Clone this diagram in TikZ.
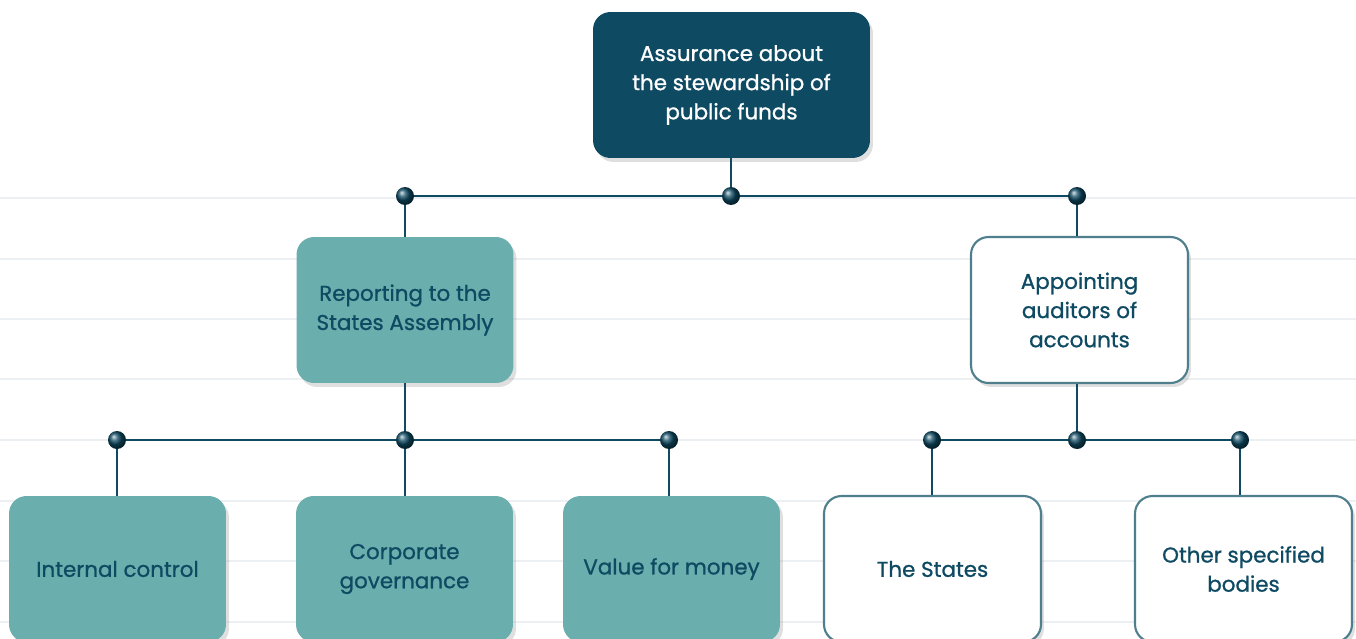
\documentclass[tikz,border=0pt]{standalone}
\usepackage{fontspec}
\setmainfont{Poppins}[FakeBold=0.9]
\usepackage{xcolor}
\usepackage{tikz}
\usetikzlibrary{shapes,positioning,shadows}

\definecolor{navy}{HTML}{0E4A62}
\definecolor{seafoam}{HTML}{6AAFAD}
\definecolor{rimgrey}{HTML}{4F7F8C}
\definecolor{gridgrey}{HTML}{EDF0F2}

\begin{document}
\begin{tikzpicture}[
        x=0.02cm, y=-0.02cm,
        font=\fontsize{12.2}{16.6}\selectfont,
        topbox/.style={rectangle, rounded corners=0.35cm, fill=navy, text=white, minimum width=5.54cm, minimum height=2.92cm, align=center, drop shadow={opacity=0.25, shadow xshift=0.06cm, shadow yshift=-0.08cm}},
        midbox/.style={rectangle, rounded corners=0.35cm, fill=seafoam, text=navy, minimum width=4.34cm, minimum height=2.92cm, align=center, drop shadow={opacity=0.25, shadow xshift=0.06cm, shadow yshift=-0.08cm}},
        openbox/.style={rectangle, rounded corners=0.35cm, draw=rimgrey, line width=1.2pt, fill=white, text=navy, minimum width=4.34cm, minimum height=2.92cm, align=center, drop shadow={opacity=0.25, shadow xshift=0.06cm, shadow yshift=-0.08cm}},
        link/.style={draw=navy, line width=1.4pt},
        dot/.style={circle, inner sep=0pt, minimum size=0.36cm, ball color=navy}
    ]
        \useasboundingbox (0,0) rectangle (1356,639);

        % Ruled background
        \foreach \gy in {198,259,319,379,440,501,561,622}
            \draw[gridgrey, line width=1.2pt] (0,\gy) -- (1356,\gy);

        % Top level
        \node[topbox] (assure) at (731.5,85) {Assurance about\\the stewardship of\\public funds};

        % Second level
        \node[midbox] (report) at (405,310) {Reporting to the\\States Assembly};
        \node[openbox] (appoint) at (1079.5,310) {Appointing\\auditors of\\accounts};

        % Third level
        \node[midbox] (internal) at (117.5,569) {Internal control};
        \node[midbox] (corporate) at (404.5,569) {Corporate\\governance};
        \node[midbox] (money) at (671.5,569) {Value for money};
        \node[openbox] (states) at (932.5,569) {The States};
        \node[openbox] (others) at (1243.5,569) {Other specified\\bodies};

        % Junction points
        \coordinate (jtopL) at (405,196);
        \coordinate (jtopM) at (731,196);
        \coordinate (jtopR) at (1077,196);
        \coordinate (jleftL) at (117,440);
        \coordinate (jleftM) at (405,440);
        \coordinate (jleftR) at (669,440);
        \coordinate (jrightL) at (932,440);
        \coordinate (jrightM) at (1077,440);
        \coordinate (jrightR) at (1240,440);

        % Connections
        \draw[link] (jtopM |- assure.south) -- (jtopM);
        \draw[link] (jtopL) -- (jtopR);
        \draw[link] (jtopL) -- (jtopL |- report.north);
        \draw[link] (jtopR) -- (jtopR |- appoint.north);
        \draw[link] (jleftM |- report.south) -- (jleftM);
        \draw[link] (jleftL) -- (jleftR);
        \draw[link] (jleftL) -- (jleftL |- internal.north);
        \draw[link] (jleftM) -- (jleftM |- corporate.north);
        \draw[link] (jleftR) -- (jleftR |- money.north);
        \draw[link] (jrightM |- appoint.south) -- (jrightM);
        \draw[link] (jrightL) -- (jrightR);
        \draw[link] (jrightL) -- (jrightL |- states.north);
        \draw[link] (jrightR) -- (jrightR |- others.north);

        % Dots on the junctions
        \node[dot] (dtopL) at (jtopL) {};
        \node[dot] (dtopM) at (jtopM) {};
        \node[dot] (dtopR) at (jtopR) {};
        \node[dot] (dleftL) at (jleftL) {};
        \node[dot] (dleftM) at (jleftM) {};
        \node[dot] (dleftR) at (jleftR) {};
        \node[dot] (drightL) at (jrightL) {};
        \node[dot] (drightM) at (jrightM) {};
        \node[dot] (drightR) at (jrightR) {};
    \end{tikzpicture}
\end{document}
